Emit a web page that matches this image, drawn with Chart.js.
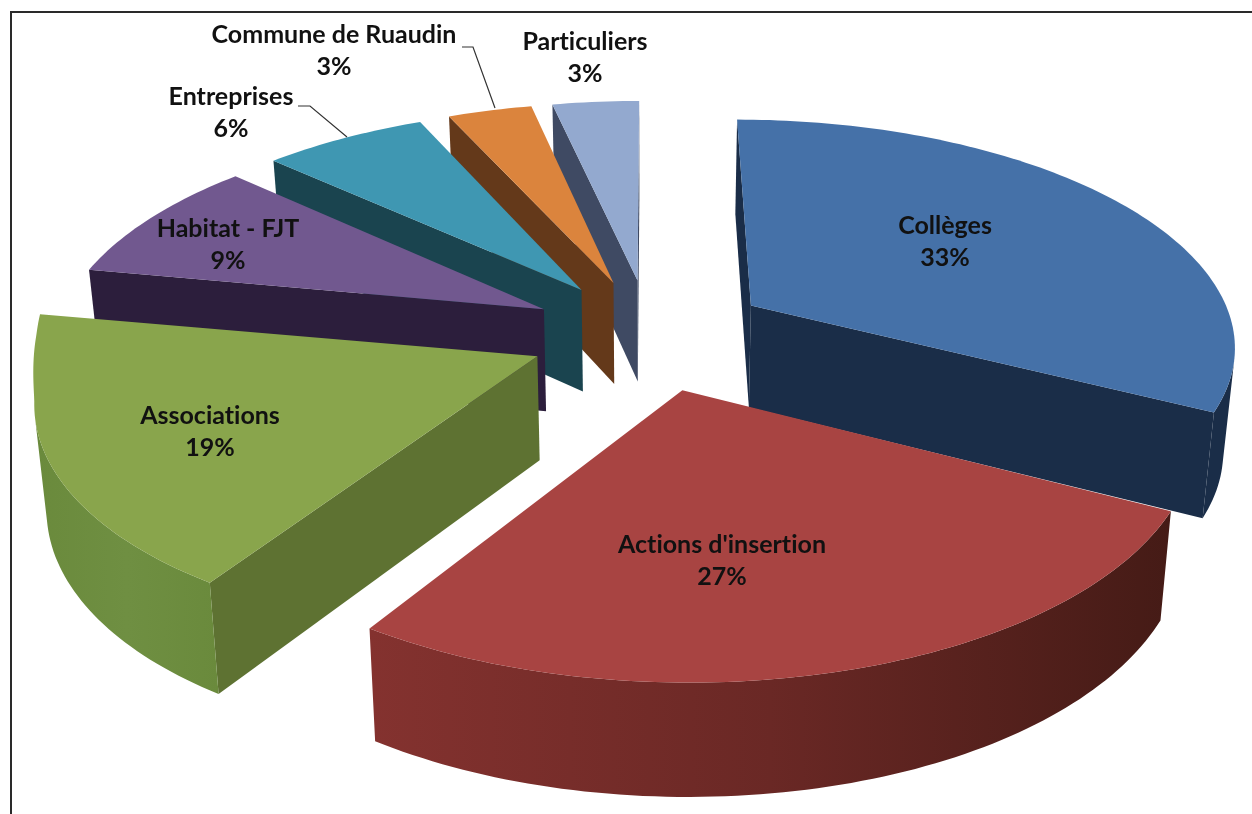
<!DOCTYPE html>
<html><head><meta charset="utf-8">
<style>
html,body{margin:0;padding:0;background:#fff;overflow:hidden}
#wrap{position:absolute;left:0;top:0;width:1252px;height:814px}
#frameTop{position:absolute;left:10px;top:11px;width:1242px;height:2px;background:#2a2a2a}
#frameLeft{position:absolute;left:10px;top:11px;width:2px;height:803px;background:#2a2a2a}
canvas{position:absolute;left:0;top:0}
</style>
<script src="https://cdn.jsdelivr.net/npm/chart.js@4/dist/chart.umd.js"></script>
</head><body>
<div id="wrap"><canvas id="c" width="1252" height="814"></canvas><div id="frameTop"></div><div id="frameLeft"></div></div>
<script>
const categories = ["Collèges","Actions d'insertion","Associations","Habitat - FJT","Entreprises","Commune de Ruaudin","Particuliers"];
const shares = [32.6,26.5,18.9,8.9,6.4,3.3,3.4];
const topColors = ["#4571a8","#a84442","#89a54c","#71588f","#3f97b2","#db843d","#93a9cf"];
const cutColors = ["#1a2d48","#5e2322","#5e7232","#2c1e3c","#1a444f","#64391a","#3f4a63"];
const wallLeft  = ["#1a2d48","#84322f","#6a8a3c","#2c1e3c","#1a444f","#64391a","#3f4a63"];
const wallMid   = ["#1a2d48","#6a2825","#6f8f42","#2c1e3c","#1a444f","#64391a","#3f4a63"];
const wallRight = ["#1a2d48","#451b16","#6a8a3c","#2c1e3c","#1a444f","#64391a","#3f4a63"];
const rimPull   = [0,0,30,0,0,0,0];
const labelCenters = [[945,226],[722,545],[210,416],[228,229],[231,97],[334,35],[585,42]];
const leaderLines = [[[298,106],[310,106],[347,137]],[[462,47],[473,47],[495,108]]];

const VIEW = {dx:24, dy:-73, B:485, A:224.6, p:0.162, H:103, pz:0.08, shrink:0.98, warp:4};

function area(pts){let s=0;for(let i=0;i<pts.length;i++){const a=pts[i],b=pts[(i+1)%pts.length];s+=a[0]*b[1]-b[0]*a[1];}return s;}
function fillPoly(ctx,pts,color){
  ctx.beginPath();pts.forEach((p,i)=>i?ctx.lineTo(p[0],p[1]):ctx.moveTo(p[0],p[1]));ctx.closePath();
  ctx.fillStyle=color;ctx.fill();
}
const clamp01=v=>Math.min(1,Math.max(0,v));

const pie3d = {
  id:'pie3d',
  beforeDatasetDraw(chart,args){
    const ctx=chart.ctx, arcs=chart.getDatasetMeta(args.index).data;
    const slices=arcs.map((el,i)=>{
      const R=el.outerRadius, t0=el.startAngle+Math.PI/2, t1=el.endAngle+Math.PI/2, mid=(t0+t1)/2;
      const d=(el.options.offset||0)/R;
      return {i,el,t0,t1,ox:d*Math.sin(mid),oy:d*Math.cos(mid)};
    }).sort((a,b)=>b.oy-a.oy);
    const X0=arcs[0].x+VIEW.dx, Y0=arcs[0].y+VIEW.dy;
    const proj=(U,V,low,pull)=>{
      const w=1+VIEW.p*V;
      let x=X0+VIEW.B*U/w, y=Y0-VIEW.A*V/w;
      x-=VIEW.warp*clamp01(-U/0.9)*clamp01(V/0.3);
      if(pull) x-=pull*Math.pow(clamp01((V+0.29)/0.38),1.5);
      if(low){x=X0+(x-X0)*VIEW.shrink;y+=VIEW.H/(1+VIEW.pz*V);}
      return [x,y];
    };
    ctx.save();
    slices.forEach(s=>{
      const pt=(t,low)=>proj(s.ox+Math.sin(t),s.oy+Math.cos(t),low,rimPull[s.i]);
      const apexT=proj(s.ox,s.oy,false), apexB=proj(s.ox,s.oy,true);
      const cutS=[apexT,pt(s.t0,false),pt(s.t0,true),apexB];
      const cutE=[apexT,pt(s.t1,false),pt(s.t1,true),apexB];
      if(area(cutS)<0) fillPoly(ctx,cutS,cutColors[s.i]);
      if(area(cutE)>0) fillPoly(ctx,cutE,cutColors[s.i]);
      const steps=Math.max(6,Math.ceil((s.t1-s.t0)/0.02));
      const upper=[],lower=[];
      for(let k=0;k<steps;k++){
        const a=s.t0+(s.t1-s.t0)*k/steps,b=s.t0+(s.t1-s.t0)*(k+1)/steps;
        const q=[pt(a,false),pt(b,false),pt(b,true),pt(a,true)];
        if(area(q)<0){
          if(!upper.length){upper.push(q[0]);lower.push(q[3]);}
          upper.push(q[1]);lower.push(q[2]);
        }
      }
      if(upper.length){
        const poly=upper.concat(lower.slice().reverse());
        const xs=poly.map(p=>p[0]), x0=Math.min(...xs), x1=Math.max(...xs);
        const g=ctx.createLinearGradient(x0,0,x1,0);
        g.addColorStop(0,wallLeft[s.i]);g.addColorStop(0.5,wallMid[s.i]);g.addColorStop(1,wallRight[s.i]);
        fillPoly(ctx,poly,g);
      }
      const top=[apexT];
      for(let k=0;k<=steps;k++) top.push(pt(s.t0+(s.t1-s.t0)*k/steps,false));
      fillPoly(ctx,top,topColors[s.i]);
    });
    ctx.restore();
    return false;
  },
  afterDatasetsDraw(chart){
    const ctx=chart.ctx;
    ctx.save();
    ctx.strokeStyle='#333';ctx.lineWidth=1.2;
    leaderLines.forEach(l=>{ctx.beginPath();l.forEach((p,i)=>i?ctx.lineTo(p[0],p[1]):ctx.moveTo(p[0],p[1]));ctx.stroke();});
    ctx.font='bold 25px Lato';ctx.textAlign='center';ctx.textBaseline='middle';ctx.fillStyle='#111';
    ctx.textRendering='optimizeSpeed';
    categories.forEach((c,i)=>{
      const p=labelCenters[i];
      ctx.fillText(c,p[0],p[1]);
      ctx.fillText(Math.round(shares[i])+'%',p[0],p[1]+32);
    });
    ctx.restore();
  }
};

new Chart(document.getElementById('c'),{
  type:'pie',
  data:{labels:categories,datasets:[{data:shares,backgroundColor:topColors,offset:90,borderWidth:0}]},
  options:{responsive:false,animation:false,layout:{padding:0},
    plugins:{legend:{display:false},tooltip:{enabled:false}}},
  plugins:[pie3d]
});
</script>
</body></html>
